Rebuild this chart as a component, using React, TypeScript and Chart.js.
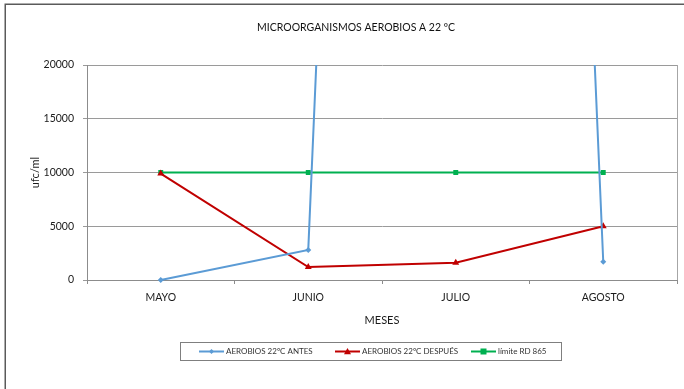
import React, { useEffect, useRef } from "react";
import { Chart, registerables } from "chart.js";

Chart.register(...registerables);

// Monthly counts (ufc/ml) of aerobic microorganisms at 22 ºC
const months = ["MAYO", "JUNIO", "JULIO", "AGOSTO"];
const aerobiosAntes = [0, 2800, 320000, 1700];
const aerobiosDespues = [9900, 1200, 1600, 5000];
const limiteRD865 = [10000, 10000, 10000, 10000];
const yTicks = [0, 5000, 10000, 15000, 20000];

const chartTitle = "MICROORGANISMOS AEROBIOS A 22 ºC";
const xTitle = "MESES";
const yTitle = "ufc/ml";
const seriesNames = ["AEROBIOS 22ºC ANTES", "AEROBIOS 22ºC DESPUÉS", "límite RD 865"];

const BLUE = "#5B9BD5";
const RED = "#C00000";
const GREEN = "#00B050";
const FONT = "Lato, 'Open Sans', sans-serif";

type Marker = "diamond" | "triangle" | "square";

function drawMarker(ctx: CanvasRenderingContext2D, kind: Marker, x: number, y: number, r: number, color: string) {
  ctx.save();
  ctx.fillStyle = color;
  ctx.beginPath();
  if (kind === "diamond") {
    ctx.moveTo(x, y - r);
    ctx.lineTo(x + r, y);
    ctx.lineTo(x, y + r);
    ctx.lineTo(x - r, y);
  } else if (kind === "triangle") {
    ctx.moveTo(x, y - r);
    ctx.lineTo(x + r, y + r * 0.8);
    ctx.lineTo(x - r, y + r * 0.8);
  } else {
    ctx.rect(x - r, y - r, 2 * r, 2 * r);
  }
  ctx.closePath();
  ctx.fill();
  ctx.restore();
}

const decorations = {
  id: "decorations",
  beforeDraw(chart: Chart) {
    const ctx = chart.ctx;
    ctx.save();
    ctx.fillStyle = "#ffffff";
    ctx.fillRect(0, 0, chart.width, chart.height);
    // outer frame
    ctx.strokeStyle = "#5a5a5a";
    ctx.lineWidth = 1.5;
    ctx.strokeRect(5.25, 4.25, chart.width + 20, chart.height + 20);
    ctx.restore();
  },
  afterDraw(chart: Chart) {
    const ctx = chart.ctx;
    const a = chart.chartArea;
    ctx.save();
    // plot area right edge
    ctx.strokeStyle = "#a6a6a6";
    ctx.lineWidth = 1;
    ctx.beginPath();
    ctx.moveTo(Math.round(a.right) + 0.5, a.top);
    ctx.lineTo(Math.round(a.right) + 0.5, a.bottom);
    ctx.stroke();

    // title
    ctx.fillStyle = "#111111";
    ctx.textAlign = "center";
    ctx.textBaseline = "middle";
    ctx.font = `10.5px ${FONT}`;
    ctx.fillText(chartTitle, 356, 28);

    // axis titles
    ctx.fillStyle = "#1a1a1a";
    ctx.font = `11px ${FONT}`;
    ctx.fillText(xTitle, (a.left + a.right) / 2, 320);
    ctx.save();
    ctx.translate(35, (a.top + a.bottom) / 2);
    ctx.rotate(-Math.PI / 2);
    ctx.fillText(yTitle, 0, 0);
    ctx.restore();

    // legend
    ctx.strokeStyle = "#7f7f7f";
    ctx.lineWidth = 1;
    ctx.strokeRect(180.5, 342.5, 381, 18);
    const colors = [BLUE, RED, GREEN];
    const markers: Marker[] = ["diamond", "triangle", "square"];
    const sizes = [2.5, 3.5, 3];
    const ly = 351.5;
    ctx.font = `8px ${FONT}`;
    ctx.textAlign = "left";
    seriesNames.forEach((name, i) => {
      const x0 = 199 + i * 136;
      const x1 = x0 + 25;
      ctx.strokeStyle = colors[i];
      ctx.lineWidth = 2;
      ctx.beginPath();
      ctx.moveTo(x0, ly);
      ctx.lineTo(x1, ly);
      ctx.stroke();
      drawMarker(ctx, markers[i], (x0 + x1) / 2, ly, sizes[i], colors[i]);
      ctx.fillStyle = "#333333";
      ctx.fillText(name, x1 + 2, ly);
    });
    ctx.restore();
  },
};

export default function App() {
  const ref = useRef<HTMLCanvasElement | null>(null);

  useEffect(() => {
    if (!ref.current) return;
    const chart = new Chart(ref.current, {
      type: "line",
      data: {
        labels: months,
        datasets: [
          {
            label: seriesNames[0],
            data: aerobiosAntes,
            borderColor: BLUE,
            backgroundColor: BLUE,
            borderWidth: 2,
            pointStyle: "rectRot",
            pointRadius: 3,
            pointBorderWidth: 0,
            clip: { left: 0, top: 0, right: 0, bottom: 6 } as any,
          },
          {
            label: seriesNames[1],
            data: aerobiosDespues,
            borderColor: RED,
            backgroundColor: RED,
            borderWidth: 2,
            pointStyle: "triangle",
            pointRadius: 4,
            pointBorderWidth: 0,
          },
          {
            label: seriesNames[2],
            data: limiteRD865,
            borderColor: GREEN,
            backgroundColor: GREEN,
            borderWidth: 2,
            pointStyle: "rect",
            pointRadius: 3.5,
            pointBorderWidth: 0,
          },
        ],
      },
      options: {
        responsive: false,
        animation: false,
        events: [],
        layout: { padding: { left: 0, top: 65, right: 7, bottom: 79 } },
        plugins: {
          legend: { display: false },
          title: { display: false },
          tooltip: { enabled: false },
        },
        scales: {
          x: {
            offset: true,
            grid: {
              offset: true,
              drawOnChartArea: false,
              drawTicks: true,
              tickLength: 4,
              color: "#8c8c8c",
            },
            border: { color: "#8c8c8c", width: 1 },
            ticks: {
              color: "#1a1a1a",
              font: { family: FONT, size: 10.5 },
              padding: 7,
              maxRotation: 0,
            },
            afterFit: (s: any) => {
              s.height = 30;
            },
          },
          y: {
            min: 0,
            max: 20000,
            afterBuildTicks: (s: any) => {
              s.ticks = yTicks.map((v) => ({ value: v }));
            },
            grid: { color: "#9a9a9a", tickLength: 4 },
            border: { color: "#8c8c8c", width: 1 },
            ticks: {
              color: "#1a1a1a",
              font: { family: FONT, size: 10.5 },
              padding: 9,
              callback: (v: any) => String(v),
            },
            afterFit: (s: any) => {
              s.width = 87;
            },
          },
        },
      },
      plugins: [decorations],
    });
    return () => chart.destroy();
  }, []);

  return (
    <div style={{ position: "absolute", left: 0, top: 0, width: 684, height: 389 }}>
      <canvas ref={ref} width={684} height={389} />
    </div>
  );
}
